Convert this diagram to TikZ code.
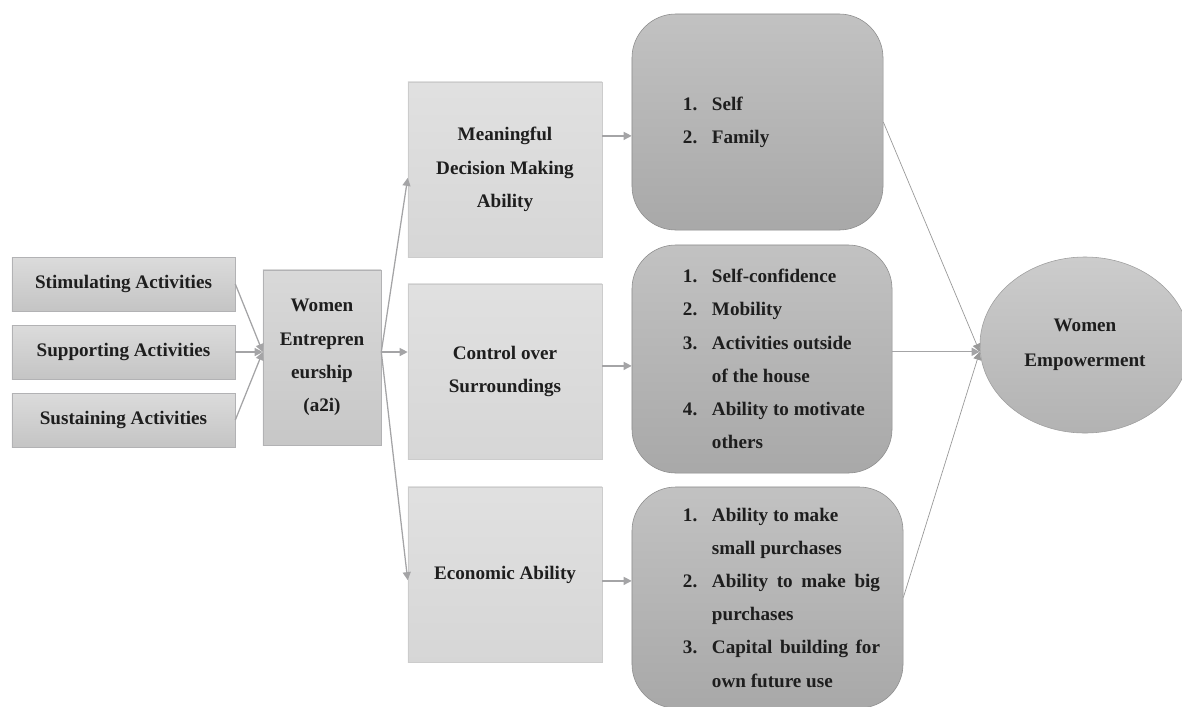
\documentclass[tikz,border=0pt]{standalone}
\usepackage{fontspec}
\setmainfont{Liberation Serif}
\usetikzlibrary{shapes.geometric,arrows.meta,positioning}

\definecolor{txtcol}{HTML}{1E1E1E}
\definecolor{arrcol}{HTML}{A4A4A6}
\definecolor{boxline}{HTML}{B2B2B4}

% list items in the rounded boxes
\newcommand{\itm}[2]{\makebox[0.725cm][l]{#1}#2}
\newcommand{\cnt}[1]{\hspace*{0.725cm}#1}

\begin{document}
\begin{tikzpicture}[x=0.025cm,y=-0.025cm,
    txt/.style={font=\bfseries\fontsize{13.6}{23.6}\selectfont,text=txtcol,align=center},
    actbox/.style={txt,draw=boxline,top color=black!14,bottom color=black!23,
        minimum width=5.575cm,minimum height=1.35cm,inner sep=0pt},
    webox/.style={txt,draw=boxline,top color=black!15,bottom color=black!22,
        minimum width=2.95cm,minimum height=4.375cm,inner sep=0pt},
    midbox/.style={txt,draw=black!20,top color=black!12,bottom color=black!16,
        minimum width=4.85cm,minimum height=4.375cm,inner sep=0pt},
    rbox/.style={draw=black!45,top color=black!24,bottom color=black!34,
        rounded corners=1.1cm,inner sep=0pt},
    lst/.style={txt,align=left,inner sep=0pt},
    arr/.style={draw=arrcol,line width=0.9pt,-{Triangle[length=0.2cm,width=0.2cm]}},
    thinarr/.style={arr,line width=0.5pt,draw=black!40}]

    \useasboundingbox (0,0) rectangle (1182,706);
    \clip (0,0) rectangle (1182,706);

    % activities
    \node[actbox](stim) at (123.5,284){Stimulating Activities};
    \node[actbox](supp) at (123.5,352){Supporting Activities};
    \node[actbox](sust) at (123.5,420){Sustaining Activities};

    \node[webox](we) at (322,357.5){Women\\Entrepren\\eurship\\(a2i)};

    % abilities
    \node[midbox](mdm) at (505,169.5){Meaningful\\Decision Making\\Ability};
    \node[midbox](cos) at (505,371.5){Control over\\Surroundings};
    \node[midbox](eca) at (505,574.5){Economic Ability};

    % indicators
    \node[rbox,minimum width=6.275cm,minimum height=5.4cm](r1) at (757.5,122){};
    \node[rbox,minimum width=6.5cm,minimum height=5.7cm](r2) at (762,359){};
    \node[rbox,minimum width=6.775cm,minimum height=5.525cm](r3) at (767.5,597.5){};

    \node[lst,right=1.275cm of r1.west](l1){\itm{1.}{Self}\\\itm{2.}{Family}};
    \node[lst,right=1.275cm of r2.west](l2){\itm{1.}{Self-confidence}\\\itm{2.}{Mobility}\\
        \itm{3.}{Activities outside}\\\cnt{of the house}\\
        \itm{4.}{Ability to motivate}\\\cnt{others}};
    \node[lst,right=1.275cm of r3.west](l3){\itm{1.}{Ability to make}\\\cnt{small purchases}\\
        \itm{2.}{\makebox[4.2cm][s]{Ability to make big}}\\\cnt{purchases}\\
        \itm{3.}{\makebox[4.2cm][s]{Capital building for}}\\\cnt{own future use}};

    \node[ellipse,draw=black!38,top color=black!20,bottom color=black!30,
        minimum width=5.25cm,minimum height=4.4cm,inner sep=0pt,
        font=\bfseries\fontsize{13.6}{24.8}\selectfont,text=txtcol,align=center]
        (ell) at (1085,345){Women\\Empowerment};

    % connectors
    \coordinate(wein) at (supp.east -| we.west);
    \draw[arr](stim.east)--(wein);
    \draw[arr](supp.east)--(wein);
    \draw[arr](sust.east)--(wein);

    \coordinate(weout) at (supp.east -| we.east);
    \draw[arr](weout)--([yshift=-0.21cm]mdm.west);
    \draw[arr](weout)--(weout -| cos.west);
    \draw[arr](weout)--([yshift=-0.14cm]eca.west);

    \coordinate(m1) at ([yshift=0.84cm]mdm.east);
    \coordinate(m2) at ([yshift=0.14cm]cos.east);
    \coordinate(m3) at ([yshift=-0.16cm]eca.east);
    \draw[arr](m1)--(m1 -| r1.west);
    \draw[arr](m2)--(m2 -| r2.west);
    \draw[arr](m3)--(m3 -| r3.west);

    \coordinate(ein) at ([yshift=-0.17cm]ell.west);
    \draw[thinarr](r1.east)--(ein);
    \draw[arr](ein -| r2.east)--(ein);
    \draw[thinarr](r3.east)--(ein);
\end{tikzpicture}
\end{document}
